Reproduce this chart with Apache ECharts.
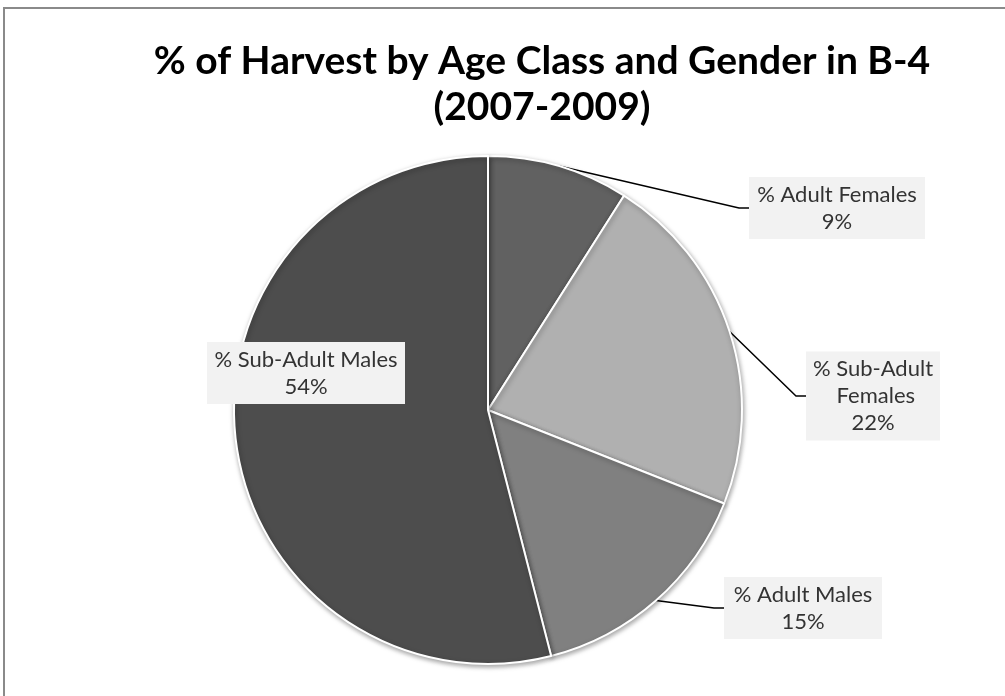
<!DOCTYPE html>
<html>
<head>
<meta charset="utf-8">
<script src="https://cdn.jsdelivr.net/npm/echarts@6/dist/echarts.min.js"></script>
<style>
  html, body { margin: 0; padding: 0; background: #fff; overflow: hidden; }
  #frame {
    position: absolute; left: 3px; top: 7px; width: 1010px; height: 700px;
    border-left: 2px solid #8a8a8a; border-top: 2px solid #8a8a8a;
  }
  #chart { position: absolute; left: 0; top: 0; width: 1005px; height: 696px; }
</style>
</head>
<body>
<div id="frame"></div>
<div id="chart"></div>
<script>
// Harvest share by age class and gender, clockwise from 12 o'clock
const categories = ['% Adult Females', '% Sub-Adult Females', '% Adult Males', '% Sub-Adult Males'];
const shares = [9, 22, 15, 54];
const sliceColors = ['#616161', '#b0b0b0', '#808080', '#4d4d4d'];

const titleLines = ['% of Harvest by Age Class and Gender in B-4', '(2007-2009)'];

// label box centres (px) and text widths for each slice
const labelSpots = [[837, 208], [873, 396], [803, 608], [306, 373]];
const labelWidths = [164, 122, 146, 186];

const chart = echarts.init(document.getElementById('chart'), null, { renderer: 'canvas' });

chart.setOption({
  animation: false,
  title: {
    text: titleLines.join('\n'),
    left: 537,
    top: 33,
    textAlign: 'center',
    textStyle: {
      fontFamily: 'Lato',
      fontWeight: 'bold',
      fontSize: 39,
      lineHeight: 46,
      color: '#000'
    }
  },
  series: [{
    type: 'pie',
    center: [488, 410],
    radius: 254,
    startAngle: 90,
    clockwise: true,
    data: categories.map((name, i) => ({
      name,
      value: shares[i],
      itemStyle: { color: sliceColors[i] },
      label: { width: labelWidths[i] },
      labelLine: { show: i !== 3 }
    })),
    itemStyle: {
      borderColor: '#fff',
      borderWidth: 2,
      shadowColor: 'rgba(0,0,0,0.35)',
      shadowBlur: 5,
      shadowOffsetX: 1,
      shadowOffsetY: 2
    },
    label: {
      show: true,
      position: 'outside',
      formatter: p => p.name + '\n' + p.value + '%',
      fontFamily: 'Lato',
      fontSize: 22,
      lineHeight: 27,
      color: '#333',
      backgroundColor: '#f2f2f2',
      padding: [4, 6, 4, 6],
      align: 'center',
      overflow: 'break'
    },
    labelLine: {
      show: true,
      length: 20,
      length2: 10,
      lineStyle: { color: '#000', width: 1.5 }
    },
    labelLayout: params => {
      const spot = labelSpots[params.dataIndex];
      return { x: spot[0], y: spot[1], align: 'center', verticalAlign: 'middle' };
    },
    emphasis: { disabled: true }
  }]
});
</script>
</body>
</html>
